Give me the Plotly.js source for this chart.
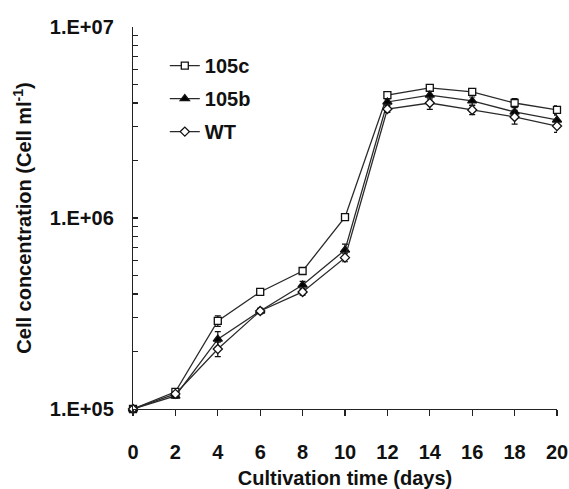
<!DOCTYPE html>
<html>
<head>
<meta charset="utf-8">
<script src="https://cdn.plot.ly/plotly-3.0.1.min.js"></script>
<style>html,body{margin:0;padding:0;background:#fff;}#chart{width:569px;height:489px;}</style>
</head>
<body>
<div id="chart"></div>
<script>
const days = [0, 2, 4, 6, 8, 10, 12, 14, 16, 18, 20];
const series105c = [1.0e5, 1.23e5, 2.89e5, 4.1e5, 5.28e5, 1.01e6, 4.4e6, 4.8e6, 4.57e6, 4.0e6, 3.68e6];
const err105c    = [0, 0.04e5, 0.18e5, 0.12e5, 0.15e5, 0.03e6, 0.15e6, 0.2e6, 0.18e6, 0.22e6, 0.18e6];
const series105b = [1.0e5, 1.17e5, 2.32e5, 3.26e5, 4.46e5, 6.8e5, 4.05e6, 4.4e6, 4.1e6, 3.59e6, 3.26e6];
const err105b    = [0, 0.03e5, 0.22e5, 0.1e5, 0.2e5, 0.05e6, 0.15e6, 0.2e6, 0.2e6, 0.22e6, 0.2e6];
const seriesWT   = [1.0e5, 1.2e5, 2.06e5, 3.26e5, 4.1e5, 6.2e5, 3.72e6, 4.0e6, 3.68e6, 3.38e6, 3.03e6];
const errWT      = [0, 0.03e5, 0.18e5, 0.1e5, 0.15e5, 0.03e6, 0.15e6, 0.3e6, 0.2e6, 0.28e6, 0.22e6];
const seriesNames = ["105c", "105b", "WT"];
const yTickVals = [1e5, 1e6, 1e7];
const yTickText = ["1.E+05", "1.E+06", "1.E+07"];
const yMinorVals = [2e5,3e5,4e5,5e5,6e5,7e5,8e5,9e5,2e6,3e6,4e6,5e6,6e6,7e6,8e6,9e6];
const xTickVals = [0, 2, 4, 6, 8, 10, 12, 14, 16, 18, 20];

const lineColor = "#2a2a2a";
function mk(name, y, err, symbol, fill, size) {
  return {
    x: days, y: y, name: name, type: "scatter", mode: "lines+markers",
    legendgroup: name, cliponaxis: false,
    line: {color: lineColor, width: 1.3},
    marker: {symbol: symbol, size: size, color: fill, line: {color: "#111", width: 1.3}},
    error_y: {type: "data", array: err, visible: true, color: "#111", thickness: 1.2, width: 3}
  };
}
const data = [
  mk(seriesNames[0], series105c, err105c, "square", "#ffffff", 7),
  mk(seriesNames[1], series105b, err105b, "triangle-up", "#000000", 8),
  mk(seriesNames[2], seriesWT, errWT, "diamond", "#ffffff", 7)
];
const fam = "Arial, 'Liberation Sans', sans-serif";
const bold20 = {family: fam, size: 20, color: "#111", weight: "bold"};
const layout = {
  width: 569, height: 489,
  margin: {l: 133, r: 12, t: 27, b: 80, pad: 0},
  paper_bgcolor: "#fff", plot_bgcolor: "#fff",
  font: {family: fam, size: 20, color: "#111"},
  showlegend: true,
  legend: {x: 0.075, y: 0.95, xanchor: "left", yanchor: "top", bgcolor: "rgba(0,0,0,0)",
           font: bold20, traceorder: "grouped", tracegroupgap: 4},
  xaxis: {
    range: [0, 20], tickvals: xTickVals, ticks: "outside", ticklen: 6, tickwidth: 1.2, tickcolor: "#222",
    showline: true, linecolor: "#222", linewidth: 1.2, showgrid: false, zeroline: false,
    ticklabelstandoff: 19,
    tickfont: bold20,
    title: {text: "Cultivation time (days)", standoff: 12, font: bold20}
  },
  yaxis: {
    type: "log", range: [5, 7], tickvals: yTickVals, ticktext: yTickText,
    ticks: "inside", ticklen: 5, tickwidth: 1.2, tickcolor: "#222",
    minor: {tickvals: yMinorVals, ticks: "inside", ticklen: 5, tickwidth: 1.2, tickcolor: "#222", showgrid: false},
    showline: true, linecolor: "#222", linewidth: 1.2, showgrid: false, zeroline: false,
    ticklabelstandoff: 14,
    tickfont: bold20,
    title: {text: "Cell concentration (Cell ml<sup>-1</sup>)", standoff: 12, font: bold20}
  }
};
Plotly.newPlot("chart", data, layout, {displayModeBar: false, staticPlot: true});
</script>
</body>
</html>
